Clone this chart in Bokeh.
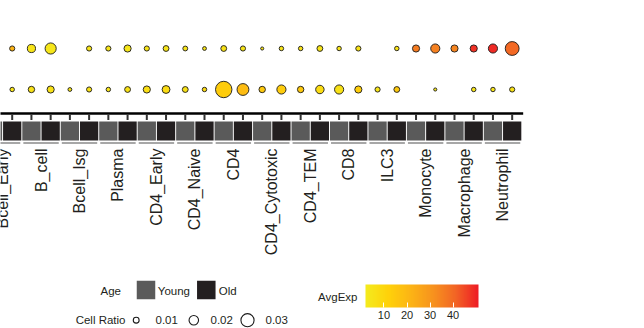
import numpy as np
from bokeh.plotting import figure
from bokeh.models import Range1d, LinearColorMapper, ColorBar, FixedTicker, ColumnDataSource
from bokeh.transform import transform
from bokeh.embed import file_html
from bokeh.resources import INLINE
from bokeh.core.properties import value

# ---------------- data ----------------
cell_types = ["Bcell_Early", "B_cell", "Bcell_Isg", "Plasma", "CD4_Early", "CD4_Naive",
              "CD4", "CD4_Cytotoxic", "CD4_TEM", "CD8", "ILC3", "Monocyte",
              "Macrophage", "Neutrophil"]
ages = ["Young", "Old"]
rows = ["gene_1", "gene_2"]          # row names are cut off in the reference

# one value per (cell type, age) column, Young/Old interleaved; None = no dot
ratio_row1 = [0.0081, 0.0081, 0.0163, 0.0245, None, 0.0081, 0.0081, 0.0136, 0.0081, 0.0100,
              0.0073, 0.0045, 0.0100, 0.0081, 0.0026, 0.0062, 0.0062, 0.0100, 0.0062, 0.0081,
              None, 0.0062, 0.0136, 0.0190, 0.0136, 0.0136, 0.0190, 0.0319]
avg_row1 = [20, 22, 5, 4, None, 5, 5, 4, 5, 5,
            5, 5, 6, 5, 5, 5, 6, 5, 5, 6,
            None, 6, 36, 35, 34, 48, 49, 40]
ratio_row2 = [0.0081, 0.0062, 0.0116, 0.0136, 0.0045, 0.0081, 0.0062, 0.0100, 0.0136, 0.0155,
              0.0100, 0.0062, 0.0390, 0.0264, 0.0116, 0.0190, 0.0116, 0.0171, 0.0190, 0.0136,
              0.0081, 0.0100, None, 0.0026, None, 0.0062, 0.0062, 0.0081]
avg_row2 = [6, 5, 6, 6, 5, 6, 5, 6, 7, 8,
            6, 9, 14, 19, 15, 14, 15, 8, 6, 13,
            5, 15, None, 4, None, 5, 5, 6]

legend_ratios = [0.01, 0.02, 0.03]
avg_ticks = [10, 20, 30, 40]
avg_low, avg_high = 2, 51

# ---------------- layout constants ----------------
W, H = 644, 328
COLW = 19.23           # px per column
ROWH = 41.0            # px per row
X0 = 1 - 11.7 / COLW
Y_TOP = -48.0 / ROWH
CB_X, CB_W, CB_TOP, CB_H = 365, 113, 284, 23

def size_of(r):
    # linear radius scale (as in the reference legend)
    return 2.2 + 365.0 * r

def interp_palette(anchors, n=256):
    pos = np.linspace(0, 1, len(anchors))
    rgb = np.array([[int(a[i:i + 2], 16) for i in (1, 3, 5)] for a in anchors], float)
    out = []
    for tt in np.linspace(0, 1, n):
        c = [np.interp(tt, pos, rgb[:, k]) for k in range(3)]
        out.append("#%02x%02x%02x" % tuple(int(round(v)) for v in c))
    return out

palette = interp_palette(["#F4EB1E", "#FFD20A", "#FCB415", "#F7921E", "#F26425", "#EE1C25"])
mapper = LinearColorMapper(palette=palette, low=avg_low, high=avg_high)

columns = [(ct, ag) for ct in cell_types for ag in ages]
ncol = len(columns)

xs, ys, sz, av = [], [], [], []
for ri, (rat, avg) in enumerate([(ratio_row1, avg_row1), (ratio_row2, avg_row2)]):
    for ci in range(ncol):
        if rat[ci] is None:
            continue
        xs.append(ci)
        ys.append(ri)
        sz.append(size_of(rat[ci]))
        av.append(avg[ci])
dots = ColumnDataSource(dict(x=xs, y=ys, size=sz, avg=av))

p = figure(width=W, height=H,
           x_range=Range1d(X0, X0 + W / COLW),
           y_range=Range1d(Y_TOP + H / ROWH, Y_TOP),
           output_backend="svg", toolbar_location=None,
           x_axis_type=None, y_axis_type=None, min_border=0)
vpp = (avg_high - avg_low) / CB_W
avg_start = avg_low - CB_X * vpp
p.extra_x_ranges = {"px": Range1d(0, W), "avg": Range1d(avg_start, avg_start + W * vpp)}
p.extra_y_ranges = {"px": Range1d(H, 0)}
p.grid.visible = False
p.outline_line_color = None

FONT = value("Liberation Sans")
TXT = "#231F20"

# axis line + ticks
last = ncol - 1
p.segment(x0=[X0 - 1], x1=[last + 11 / COLW], y0=[113], y1=[113], y_range_name="px",
          line_color="black", line_width=2.5)
idx = list(range(ncol))
p.segment(x0=idx, x1=idx, y0=[114] * ncol, y1=[119.5] * ncol, y_range_name="px",
          line_color="#333333", line_width=2)

# annotation strip
box_colors = ["#5A5A5A" if ag == "Young" else "#231F20" for (_, ag) in columns]
p.rect(x=idx, y=[130.5] * ncol, width=0.95, height=19, y_range_name="px",
       fill_color=box_colors, line_color=None)
pair_c = [2 * k + 0.5 for k in range(len(cell_types))]
half = 17.7 / COLW
p.segment(x0=[c - half for c in pair_c], x1=[c + half for c in pair_c],
          y0=[142.5] * len(pair_c), y1=[142.5] * len(pair_c), y_range_name="px",
          line_color="#8a8a8a", line_width=1.5)

# labels
p.text(x=pair_c, y=[148] * len(pair_c), text=cell_types, angle=np.pi / 2,
       text_align="right", text_baseline="middle", text_font=FONT,
       text_font_size="16px", text_color=TXT, y_range_name="px")

# dots
p.scatter(x="x", y="y", size="size", source=dots,
          fill_color=transform("avg", mapper), line_color="#1a1a1a", line_width=0.9)

# Age legend
p.text(x=[120.5], y=[290.5], text=["Age"], text_align="right", text_baseline="middle",
       text_font=FONT, text_font_size="11.5px", text_color=TXT,
       x_range_name="px", y_range_name="px")
p.rect(x=[145.5, 205.8], y=[289.5, 289.5], width=18.5, height=18.5,
       fill_color=["#5A5A5A", "#231F20"], line_color=None,
       x_range_name="px", y_range_name="px")
p.text(x=[157.3, 218.3], y=[290.5, 290.5], text=ages, text_align="left",
       text_baseline="middle", text_font=FONT, text_font_size="11.5px", text_color=TXT,
       x_range_name="px", y_range_name="px")

# Cell ratio legend
p.text(x=[125], y=[319.5], text=["Cell Ratio"], text_align="right", text_baseline="middle",
       text_font=FONT, text_font_size="11.5px", text_color=TXT,
       x_range_name="px", y_range_name="px")
cx = [135.7, 193.3, 247]
p.scatter(x=cx, y=[319.7] * 3, size=[size_of(r) for r in legend_ratios],
          fill_color=None, line_color="#1a1a1a", line_width=1.1,
          x_range_name="px", y_range_name="px")
p.text(x=[155, 210, 265], y=[319.5] * 3, text=[f"{r:.2f}" for r in legend_ratios],
       text_align="left", text_baseline="middle", text_font=FONT,
       text_font_size="11.5px", text_color=TXT, x_range_name="px", y_range_name="px")

# AvgExp colour bar
p.text(x=[357], y=[296.5], text=["AvgExp"], text_align="right", text_baseline="middle",
       text_font=FONT, text_font_size="11.5px", text_color=TXT,
       x_range_name="px", y_range_name="px")
cb = ColorBar(color_mapper=mapper, orientation="horizontal", width=CB_W, height=CB_H,
              location=(CB_X, H - (CB_TOP + CB_H) - 14), ticker=FixedTicker(ticks=avg_ticks),
              major_tick_line_color="white", major_tick_in=5, major_tick_out=0,
              major_label_text_font="Liberation Sans", major_label_text_font_size="11px",
              major_label_text_color=TXT, label_standoff=3, padding=0,
              background_fill_alpha=0, border_line_color=None, bar_line_color=None,
              title=None)
p.add_layout(cb)
# white ticks on the top edge of the bar
p.segment(x0=avg_ticks, x1=avg_ticks, y0=[CB_TOP] * 4, y1=[CB_TOP + 5] * 4,
          x_range_name="avg", y_range_name="px", line_color="white", line_width=1)

open("out.html", "w").write(file_html(p, INLINE))
